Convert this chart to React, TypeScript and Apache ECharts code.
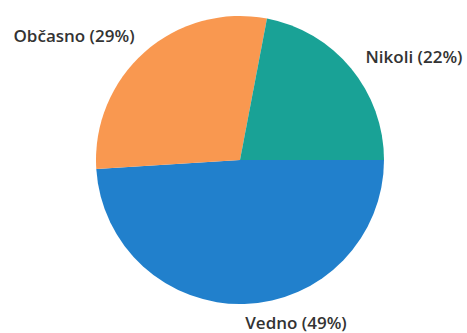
import React, { useEffect, useRef } from "react";
import * as echarts from "echarts";

const categories = ["Vedno", "Občasno", "Nikoli"];
const percents = [49, 29, 22];
const colors = ["#2180CC", "#F99850", "#19A296"];
// label anchor positions (layout, not data)
const labelPos: [number, number][] = [
  [296, 322],
  [74, 35],
  [414, 56],
];

export default function App() {
  const ref = useRef<HTMLDivElement>(null);
  useEffect(() => {
    if (!ref.current) return;
    const chart = echarts.init(ref.current, undefined, { renderer: "svg" });
    chart.setOption({
      animation: false,
      backgroundColor: "#ffffff",
      series: [
        {
          type: "pie",
          center: [240, 160],
          radius: 144,
          startAngle: 0,
          clockwise: true,
          silent: true,
          itemStyle: { borderWidth: 0 },
          label: {
            show: true,
            position: "outside",
            overflow: "none",
            formatter: (p: any) => `${p.name} (${p.value}%)`,
            fontFamily: "'Open Sans', 'Noto Sans', sans-serif",
            fontWeight: 600,
            fontSize: 17,
            color: "#333333",
          },
          labelLine: { show: false },
          labelLayout: (p: any) => ({
            x: labelPos[p.dataIndex][0],
            y: labelPos[p.dataIndex][1],
            align: "center",
            verticalAlign: "middle",
          }),
          data: categories.map((c, i) => ({
            name: c,
            value: percents[i],
            itemStyle: { color: colors[i] },
          })),
        },
      ],
    });
    return () => chart.dispose();
  }, []);
  return (
    <div
      ref={ref}
      style={{ position: "fixed", left: 0, top: 0, width: 467, height: 333, background: "#fff" }}
    />
  );
}
